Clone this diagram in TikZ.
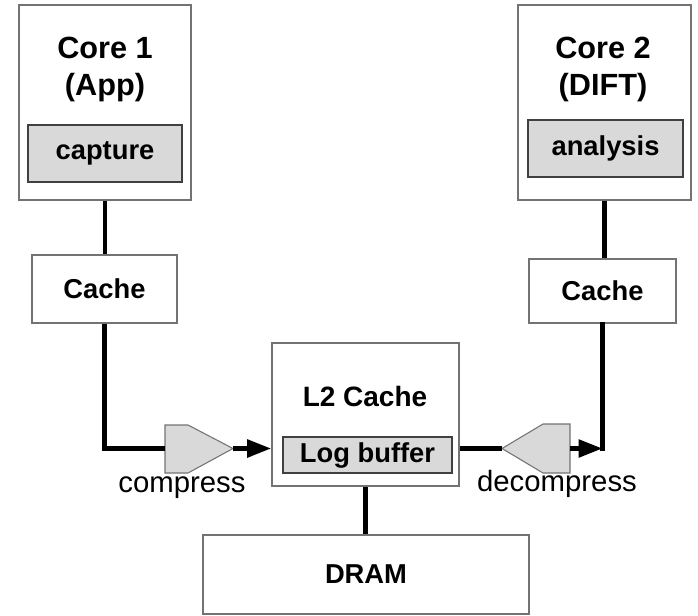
\documentclass[tikz,border=0pt]{standalone}
\usepackage{fontspec}
\setmainfont{Liberation Sans}
\usetikzlibrary{arrows.meta}

\begin{document}
\begin{tikzpicture}[x=0.75pt,y=0.75pt,yscale=-1,
  outer/.style={draw=black!55,line width=1.3pt,fill=white,inner sep=0pt},
  inner/.style={draw=black!75,line width=1.3pt,fill=black!15,inner sep=0pt,
    font=\fontsize{20.5}{24}\selectfont\bfseries},
  title/.style={inner sep=0pt,align=center,font=\fontsize{23}{27.75}\selectfont\bfseries},
  label/.style={inner sep=0pt,font=\fontsize{22}{26}\selectfont},
  codec/.style={draw=black!55,line width=0.8pt,fill=black!15},
  wire/.style={line width=3.5pt,black},
  tip/.style={-{Triangle[length=18pt,width=13pt]}}]

\useasboundingbox (0,0) rectangle (698,616);

%Shape: Rectangle [core 1]
\node[outer,minimum width=129pt,minimum height=146.25pt] (core1) at (105,102.5) {};
% Text Node
\node[title] (core1title) at (105,69) {Core 1\\(App)};
%Shape: Rectangle [capture]
\node[inner,minimum width=115.5pt,minimum height=42.75pt] (capture) at (105,153.5) {capture};

%Shape: Rectangle [core 2]
\node[outer,minimum width=129.75pt,minimum height=146.25pt] (core2) at (604.5,102.5) {};
% Text Node
\node[title] (core2title) at (603,69) {Core 2\\(DIFT)};
%Shape: Rectangle [analysis]
\node[inner,minimum width=116.25pt,minimum height=42.75pt] (analysis) at (605.5,148.5) {analysis};

%Shape: Rectangle [caches]
\node[outer,minimum width=108.75pt,minimum height=51pt,font=\fontsize{20.5}{24}\selectfont\bfseries] (cache1) at (104.5,289) {Cache};
\node[outer,minimum width=110.25pt,minimum height=48pt,font=\fontsize{20.5}{24}\selectfont\bfseries] (cache2) at (602.5,291) {Cache};

%Shape: Rectangle [L2]
\node[outer,minimum width=140.25pt,minimum height=107.25pt] (l2) at (365.5,414.5) {};
% Text Node
\node[title,font=\fontsize{21}{24}\selectfont\bfseries] (l2title) at (365,396) {L2 Cache};
%Shape: Rectangle [log buffer]
\node[inner,minimum width=126.75pt,minimum height=27pt] (logbuf) at (367.5,455) {Log buffer};

%Shape: Rectangle [DRAM]
\node[outer,minimum width=244.5pt,minimum height=59.25pt,font=\fontsize{20.5}{24}\selectfont\bfseries] (dram) at (366,574.5) {DRAM};

%Shape: Polygon [compress]
\coordinate (cmpin) at (165,448.5);
\coordinate (cmpout) at (233,448.5);
\draw[codec] (cmpin |- 0,425) -- (188,425) -- (cmpout) -- (188,473) -- (cmpin |- 0,473) -- cycle;
%Shape: Polygon [decompress]
\coordinate (dcmpin) at (502,448.5);
\coordinate (dcmpout) at (570,448.5);
\draw[codec] (dcmpin) -- (543,424) -- (dcmpout |- 0,424) -- (dcmpout |- 0,473) -- (543,473) -- cycle;
% Text Node
\node[label,anchor=base] (cmplabel) at (182,492) {compress};
\node[label,anchor=base] (dcmplabel) at (557,491) {decompress};

%Straight Lines [wires]
\draw[wire] (core1.south) -- (core1.south |- cache1.north);
\draw[wire] (core2.south) -- (core2.south |- cache2.north);
\draw[wire] (cache1.south) |- (cmpin);
\draw[wire,tip] (cmpout) -- (cmpout -| l2.west);
\draw[wire] (l2.east |- dcmpin) -- (dcmpin);
\draw[wire,tip] (dcmpout) -- (dcmpout -| cache2.south);
\draw[wire,line cap=rect] (cache2.south) -- (cache2.south |- dcmpout);
\draw[wire] (l2.south) -- (l2.south |- dram.north);

\end{tikzpicture}
\end{document}
